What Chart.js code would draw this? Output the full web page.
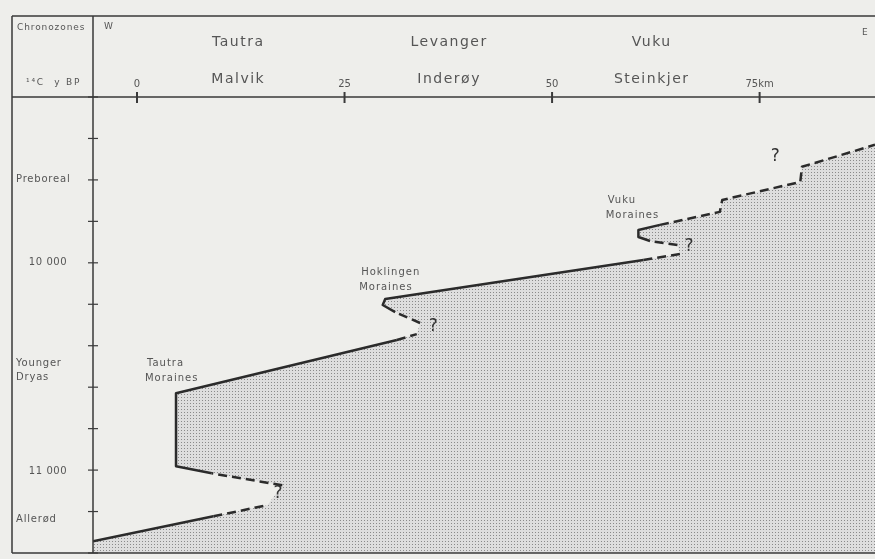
<!DOCTYPE html>
<html lang="en">
<head>
    <meta charset="UTF-8">
    <title>Ice-front positions, Trondheimsfjord</title>
    <script src="https://cdn.jsdelivr.net/npm/chart.js"></script>
    <style>
        body {
            margin: 0;
            background: #eeeeeb;
        }
        #wrap {
            width: 875px;
            height: 559px;
        }
    </style>
</head>
<body>
    <div id="wrap"><canvas id="chart" width="875" height="559"></canvas></div>

    <script>
        // ice margin trace: distance east (km) and age (14C y BP)
        const distanceKm = [-5.3, 9.2, 15.7, 17.5, 9.0, 4.7, 4.7, 31.3, 33.7, 34.1, 31.1, 29.6, 29.9,
                            61.0, 65.4, 65.1, 61.8, 60.4, 60.4, 63.0, 70.2, 70.5, 79.9, 80.1, 88.9];
        const ageBP = [11332, 11213, 11160, 11065, 11008, 10974, 10626, 10372, 10344, 10291, 10239, 10205, 10177,
                       9990, 9962, 9919, 9900, 9881, 9847, 9823, 9761, 9704, 9618, 9546, 9441];
        // what each piece between two points is: known, inferred or unknown (not drawn)
        const traceKind = ['known', 'inferred', 'unknown', 'inferred', 'known', 'known', 'known', 'inferred',
                           'unknown', 'inferred', 'known', 'known', 'known', 'inferred', 'unknown', 'inferred',
                           'known', 'known', 'known', 'inferred', 'inferred', 'inferred', 'inferred', 'inferred'];

        const kmRange = [-5.3, 88.9];
        const ageRange = [9213, 11388];
        const xTicks = [0, 25, 50, 75];
        const ageLabels = [10000, 11000];

        const centres = [['Tautra', 'Malvik'], ['Levanger', 'Inderøy'], ['Vuku', 'Steinkjer']];
        const centreKm = [12.2, 37.6, 62.0];

        const zoneNames = [['Preboreal'], ['Younger', 'Dryas'], ['Allerød']];
        const zoneAge = [9608, 10482, 11226];

        const moraineNames = ['Tautra', 'Hoklingen', 'Vuku'];
        const moraineKm = [1.2, 27.0, 56.7];
        const moraineAge = [10482, 10048, 9704];

        const queryKm = [17.0, 35.7, 66.5, 76.9];
        const queryAge = [11103, 10310, 9928, 9499];

        const FONT = "'DejaVu Sans', sans-serif";
        const INK = '#2b2b2b';
        const TEXT = '#555';

        // stipple for the ice-covered side
        function stipple(ctx) {
            const c = document.createElement('canvas');
            c.width = 3; c.height = 3;
            const g = c.getContext('2d');
            g.fillStyle = '#dedede';
            g.fillRect(0, 0, 3, 3);
            g.fillStyle = '#8a8a8a';
            g.fillRect(1, 1, 1, 1);
            return ctx.createPattern(c, 'repeat');
        }

        function txt(ctx, s, x, y, size, align, spacing, color) {
            ctx.font = size + 'px ' + FONT;
            ctx.textAlign = align || 'left';
            ctx.textBaseline = 'middle';
            ctx.fillStyle = color || TEXT;
            ctx.letterSpacing = (spacing || 0) + 'px';
            ctx.fillText(s, x, y);
            ctx.letterSpacing = '0px';
        }

        // fill the closed trace polygon (the point elements are placed by the scales)
        const iceFill = {
            id: 'iceFill',
            beforeDatasetsDraw(chart) {
                const ctx = chart.ctx;
                const a = chart.chartArea;
                const pts = chart.getDatasetMeta(0).data;
                ctx.save();
                ctx.beginPath();
                ctx.rect(a.left, a.top, a.right - a.left, a.bottom - a.top);
                ctx.clip();
                ctx.beginPath();
                pts.forEach((p, i) => i ? ctx.lineTo(p.x, p.y) : ctx.moveTo(p.x, p.y));
                ctx.closePath();
                ctx.fillStyle = stipple(ctx);
                ctx.fill();
                ctx.restore();
            }
        };

        const frame = {
            id: 'frame',
            afterDraw(chart) {
                const ctx = chart.ctx;
                const xs = chart.scales.x, ys = chart.scales.y;
                const a = chart.chartArea;
                const L = 12, T = 16;
                ctx.save();
                ctx.strokeStyle = '#3a3a3a';
                ctx.lineWidth = 1.5;
                ctx.beginPath();
                ctx.moveTo(L, T); ctx.lineTo(a.right, T);
                ctx.moveTo(L, T); ctx.lineTo(L, a.bottom);
                ctx.moveTo(L, a.bottom); ctx.lineTo(a.right, a.bottom);
                ctx.moveTo(a.left, T); ctx.lineTo(a.left, a.bottom);
                ctx.moveTo(L, a.top); ctx.lineTo(a.right, a.top);
                ctx.stroke();

                // ticks crossing the axes
                ys.ticks.forEach(t => {
                    const y = ys.getPixelForValue(t.value);
                    const major = ageLabels.includes(t.value);
                    ctx.lineWidth = major ? 2 : 1.2;
                    ctx.beginPath();
                    ctx.moveTo(a.left - (major ? 8 : 5), y);
                    ctx.lineTo(a.left + 5, y);
                    ctx.stroke();
                });
                ctx.lineWidth = 2;
                xTicks.forEach(v => {
                    const x = xs.getPixelForValue(v);
                    ctx.beginPath();
                    ctx.moveTo(x, a.top - 5);
                    ctx.lineTo(x, a.top + 6);
                    ctx.stroke();
                });

                // age labels
                ageLabels.forEach(v => {
                    const s = String(v).replace(/(\d+)(\d{3})$/, '$1 $2');
                    txt(ctx, s, 48, ys.getPixelForValue(v), 10, 'center', 0.6);
                });

                // header
                txt(ctx, 'Chronozones', 17, 28, 9, 'left', 0.9);
                txt(ctx, '¹⁴C  y BP', 26, 83, 9, 'left', 1.8);
                txt(ctx, 'W', 104, 27, 9, 'left', 0);
                txt(ctx, 'E', 862, 33, 9, 'left', 0);
                centres.forEach((pair, i) => {
                    const x = xs.getPixelForValue(centreKm[i]);
                    txt(ctx, pair[0], x, 42, 14, 'center', 1.5);
                    txt(ctx, pair[1], x, 79, 14, 'center', 1.5);
                });

                // chronozones
                zoneNames.forEach((lines, i) => {
                    const y = ys.getPixelForValue(zoneAge[i]);
                    lines.forEach((s, k) => txt(ctx, s, 16, y + k * 14, 10, 'left', 0.8));
                });

                // moraine labels
                moraineNames.forEach((name, i) => {
                    const x = xs.getPixelForValue(moraineKm[i]);
                    const y = ys.getPixelForValue(moraineAge[i]);
                    txt(ctx, name, x, y, 10, 'left', 1);
                    txt(ctx, 'Moraines', x - 2, y + 15, 10, 'left', 1);
                });

                queryKm.forEach((km, i) => {
                    txt(ctx, '?', xs.getPixelForValue(km), ys.getPixelForValue(queryAge[i]), 17, 'center', 0, '#333');
                });
                ctx.restore();
            }
        };

        // the trace, closed along the lower right corner of the plot for the stipple
        const points = distanceKm.map((km, i) => ({ x: km, y: ageBP[i] }));
        points.push({ x: kmRange[1], y: ageRange[1] }, { x: kmRange[0], y: ageRange[1] });

        new Chart(document.getElementById('chart'), {
            type: 'scatter',
            data: {
                datasets: [{
                    data: points,
                    showLine: true,
                    pointRadius: 0,
                    borderColor: INK,
                    borderWidth: 2.5,
                    borderJoinStyle: 'round',
                    tension: 0,
                    fill: false,
                    segment: {
                        borderDash: c => traceKind[c.p0DataIndex] === 'inferred' ? [9, 5] : undefined,
                        borderColor: c => (traceKind[c.p0DataIndex] || 'unknown') === 'unknown' ? 'rgba(0,0,0,0)' : undefined
                    }
                }]
            },
            options: {
                responsive: false,
                animation: false,
                layout: { padding: { left: 12, top: 16, right: 0, bottom: 6 } },
                plugins: {
                    legend: { display: false },
                    tooltip: { enabled: false }
                },
                scales: {
                    x: {
                        type: 'linear',
                        position: 'top',
                        min: kmRange[0],
                        max: kmRange[1],
                        afterFit: s => { s.height = 81; s.paddingLeft = 0; s.paddingRight = 0; },
                        grid: { display: false, drawTicks: true, tickLength: 5 },
                        border: { display: false },
                        ticks: {
                            stepSize: 25,
                            includeBounds: false,
                            maxRotation: 0,
                            autoSkip: false,
                            padding: 2,
                            color: TEXT,
                            font: { family: FONT, size: 10 },
                            callback: v => v === 75 ? '75km' : v
                        }
                    },
                    y: {
                        type: 'linear',
                        reverse: true,
                        min: ageRange[0],
                        max: ageRange[1],
                        afterFit: s => { s.width = 81; s.paddingTop = 0; s.paddingBottom = 0; },
                        grid: { display: false, drawTicks: false },
                        border: { display: false },
                        ticks: {
                            stepSize: 200,
                            includeBounds: false,
                            autoSkip: false,
                            display: false
                        }
                    }
                }
            },
            plugins: [iceFill, frame]
        });
    </script>
</body>
</html>
